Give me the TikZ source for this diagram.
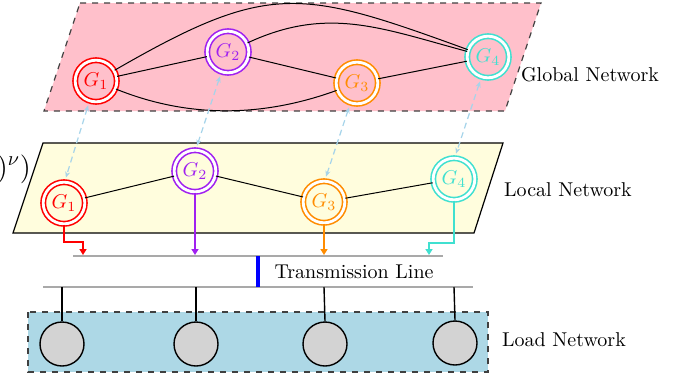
\documentclass[tikz,border=0pt]{standalone}
\usetikzlibrary{arrows.meta,calc}
\definecolor{gpurple}{HTML}{A020F0}
\definecolor{gorange}{HTML}{FF8C00}
\definecolor{gturq}{HTML}{40E0D0}
\definecolor{planepink}{HTML}{FFC0CB}
\definecolor{planeyellow}{HTML}{FFFDDD}
\definecolor{loadblue}{HTML}{ADD8E6}
\definecolor{dashblue}{HTML}{A6D4EA}
\definecolor{tgray}{HTML}{A9A9A9}
\definecolor{ldgray}{HTML}{D3D3D3}
\begin{document}
\begin{tikzpicture}[x=0.5pt,y=0.5pt,
  gen/.style={circle,double,double distance=1.4pt,line width=0.8pt,minimum size=20.8pt,inner sep=0pt},
  edge/.style={black,line width=0.5pt},
  link/.style={dashblue,line width=0.6pt,dash pattern=on 3pt off 2pt,
    arrows={Stealth[length=3pt,width=2.5pt]-Stealth[length=3pt,width=2.5pt]},shorten <=2pt,shorten >=2pt},
  feed/.style={line width=0.8pt,-{Triangle[length=3pt,width=3.5pt]}},
  tline/.style={tgray,line width=1pt},
  loadc/.style={circle,draw=black,fill=ldgray,line width=0.7pt,minimum size=22pt,inner sep=0pt},
  lbl/.style={font=\normalsize}]
\useasboundingbox (0,0) rectangle (684,-381);
% planes
\draw[fill=planepink,draw=black!75,line width=0.6pt,dashed] (80,-3) -- (541,-3) -- (505,-111) -- (44,-111) -- cycle;
\draw[fill=planeyellow,draw=black,line width=0.6pt] (43,-143) -- (503,-143) -- (474,-233) -- (13,-233) -- cycle;
\draw[fill=loadblue,draw=black!75,line width=0.6pt,dashed] (28,-312) rectangle (488,-372);
% global nodes
\node[gen,draw=red,text=red] (gG1) at (96,-81) {$G_1$};
\node[gen,draw=gpurple,text=gpurple] (gG2) at (228,-52) {$G_2$};
\node[gen,draw=gorange,text=gorange] (gG3) at (357,-83) {$G_3$};
\node[gen,draw=gturq,text=gturq] (gG4) at (488,-57) {$G_4$};
\draw[edge] (gG1) -- (gG2);
\draw[edge] (gG2) -- (gG3);
\draw[edge] (gG3) -- (gG4);
\draw[edge] (gG1) .. controls +(30:200) and +(160:200) .. (gG4);
\draw[edge] (gG2) .. controls +(25:110) and +(165:110) .. (gG4);
\draw[edge] (gG1) .. controls +(-22:100) and +(-160:100) .. (gG3);
% local nodes
\node[gen,draw=red,text=red] (lG1) at (64,-203) {$G_1$};
\node[gen,draw=gpurple,text=gpurple] (lG2) at (195,-171) {$G_2$};
\node[gen,draw=gorange,text=gorange] (lG3) at (324,-202) {$G_3$};
\node[gen,draw=gturq,text=gturq] (lG4) at (454,-179) {$G_4$};
\draw[edge] (lG1) -- (lG2);
\draw[edge] (lG2) -- (lG3);
\draw[edge] (lG3) -- (lG4);
% links between layers
\draw[link] (gG1.252) -- (lG1.88);
\draw[link] (gG2.252) -- (lG2.88);
\draw[link] (gG3.252) -- (lG3.88);
\draw[link] (gG4.252) -- (lG4.88);
% transmission lines
\coordinate (ua) at (73,-256);
\coordinate (ub) at (443,-256);
\coordinate (la) at (43,-287);
\coordinate (lb) at (473,-287);
\coordinate (bt) at (258,-256);
\coordinate (bb) at (258,-287);
\draw[tline] (ua) -- (ub);
\draw[tline] (la) -- (lb);
\draw[blue,line width=1.6pt] (bt) -- (bb);
\node[lbl] (tl) at (354,-272) {Transmission Line};
% feeds
\coordinate (r1) at (83,-242);
\coordinate (t1) at (83,-255);
\coordinate (t2) at (195,-255);
\coordinate (t3) at (324,-255);
\coordinate (r4) at (429,-243);
\coordinate (t4) at (429,-255);
\draw[feed,red] (lG1.south) |- (r1) -- (t1);
\draw[feed,gpurple] (lG2.south) -- (t2);
\draw[feed,gorange] (lG3.south) -- (t3);
\draw[feed,gturq] (lG4.south) |- (r4) -- (t4);
% loads
\node[loadc] (ld1) at (62,-344) {};
\node[loadc] (ld2) at (196,-344) {};
\node[loadc] (ld3) at (325,-344) {};
\node[loadc] (ld4) at (455,-343) {};
\coordinate (b1) at (62,-287);
\coordinate (b2) at (196,-287);
\coordinate (b3) at (324,-287);
\coordinate (b4) at (454,-287);
\draw[black,line width=0.7pt] (ld1.north) -- (b1);
\draw[black,line width=0.7pt] (ld2.north) -- (b2);
\draw[black,line width=0.7pt] (ld3.north) -- (b3);
\draw[black,line width=0.7pt] (ld4.north) -- (b4);
% labels
\node[lbl] (gl) at (590,-75) {Global Network};
\node[lbl] (ll) at (568,-190) {Local Network};
\node[lbl] (dl) at (564,-340) {Load Network};
\node[font=\Large,anchor=east] (cut) at (38,-169) {$)^{\nu})$};
\end{tikzpicture}
\end{document}
